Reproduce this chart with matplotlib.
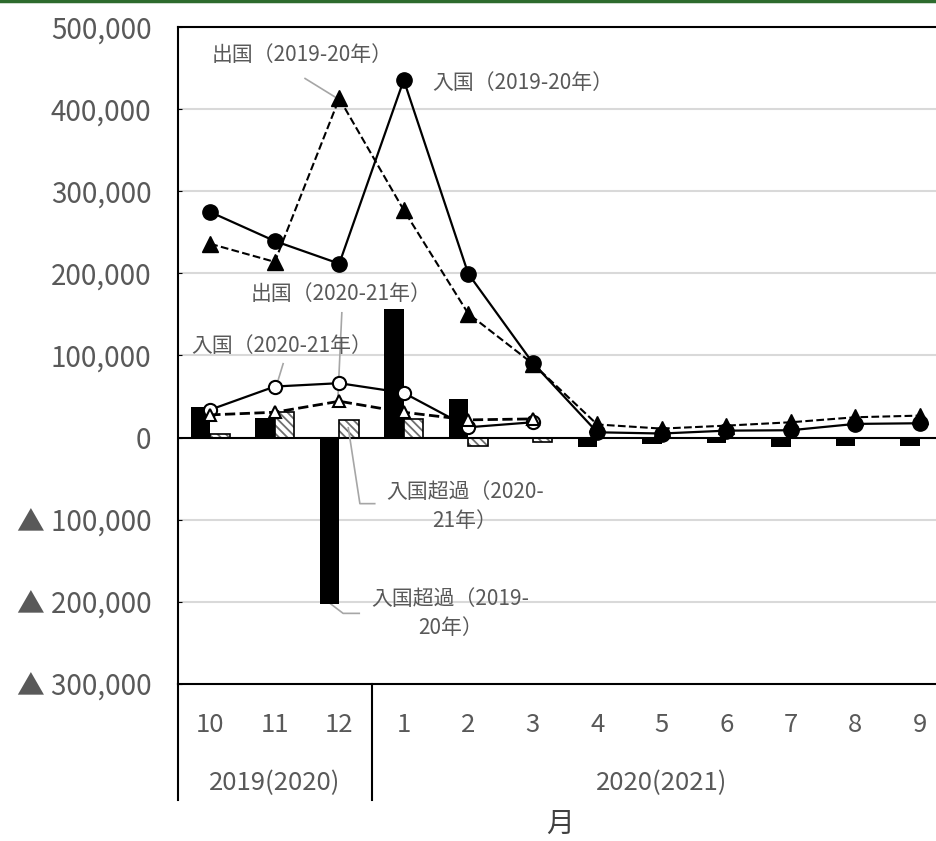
import numpy as np
import matplotlib
matplotlib.use("Agg")
import matplotlib.pyplot as plt
from matplotlib.lines import Line2D
from matplotlib.ticker import FuncFormatter

plt.rcParams['font.family'] = ['Noto Sans CJK JP', 'DejaVu Sans']
plt.rcParams['hatch.linewidth'] = 1.3

# months and groups
months = ['10', '11', '12', '1', '2', '3', '4', '5', '6', '7', '8', '9']
years = ['2019(2020)', '2020(2021)']

# values
in_1920 = [274700, 239400, 211800, 435400, 199600, 91000, 6500, 5000, 8500, 9000, 16700, 17500]
out_1920 = [236000, 214000, 413000, 277000, 151000, 90000, 16000, 11000, 14600, 18700, 24800, 26800]
in_2021 = [34000, 62200, 66300, 54500, 12600, 18700]
out_2021 = [27700, 30900, 44300, 30900, 21600, 22800]
net_1920 = [37800, 24000, -202000, 157000, 47000, 1000, -11000, -7500, -7000, -11000, -10000, -10000]
net_2021 = [5000, 31000, 21600, 23000, -10000, -5000]

txt = '#595959'
lead = '#a6a6a6'

fig = plt.figure(figsize=(9.36, 8.41), dpi=100)
ax = fig.add_axes([178/936, 1-684/841, 774/936, 657/841])

x = np.arange(len(months))
x2 = np.arange(len(in_2021))
w = 0.3

# bars
ax.bar(x - w/2, net_1920, w, color='black', zorder=2)
ax.bar(x2 + w/2, net_2021, w, color='white', edgecolor='#6f6f6f', hatch='\\\\\\\\',
       linewidth=0, zorder=2)
ax.bar(x2 + w/2, net_2021, w, color='none', edgecolor='black', linewidth=1.2, zorder=2)

# lines
ax.plot(x, out_1920, '--', color='black', lw=1.5, marker='^', ms=11, zorder=3)
ax.plot(x, in_1920, '-', color='black', lw=1.6, marker='o', ms=11, zorder=3)
ax.plot(x2, in_2021, '-', color='black', lw=1.6, marker='o', ms=9.5,
        mfc='white', mec='black', mew=1.5, zorder=4)
ax.plot(x2, out_2021, '--', color='black', lw=2, marker='^', ms=9,
        mfc='white', mec='black', mew=1.5, zorder=5)

ax.set_xlim(-0.5, 11.5)
ax.set_ylim(-300000, 500000)
ax.set_yticks(np.arange(-300000, 500001, 100000))
ax.yaxis.set_major_formatter(FuncFormatter(
    lambda v, p: '0' if v == 0 else ('{:,.0f}'.format(v) if v > 0 else '▲ {:,.0f}'.format(-v))))
ax.tick_params(axis='y', labelsize=20, colors=txt, pad=19, length=3, direction='in')
ax.tick_params(axis='y', color='black')
ax.set_xticks([])

for yv in range(-200000, 500001, 100000):
    if yv != 0:
        ax.axhline(yv, color='#d9d9d9', lw=1.5, zorder=0)
ax.axhline(0, color='black', lw=1.5, zorder=2.5)

for s in ['top', 'left', 'bottom']:
    ax.spines[s].set_linewidth(1.5)
    ax.spines[s].set_color('black')
ax.spines['right'].set_visible(False)

# category axis (two levels)
trans = ax.get_xaxis_transform()
for i, m in enumerate(months):
    ax.text(i, -0.0625, m, transform=trans, ha='center', va='center', fontsize=18.5, color=txt)
ax.text(1, -0.1515, years[0], transform=trans, ha='center', va='center', fontsize=18.5, color=txt)
ax.text(7, -0.1515, years[1], transform=trans, ha='center', va='center', fontsize=18.5, color=txt)
for xv in [-0.5, 2.5]:
    ax.add_line(Line2D([xv, xv], [0, -0.1765], transform=trans, color='black', lw=1.5, clip_on=False))
fig.text(560/936, 1-824/841, '月', ha='center', va='center', fontsize=20, color='#404040')

# labels and leader lines
fs = 15
ax.text(1.42, 465300, '出国（2019-20年）', ha='center', va='center', fontsize=fs, color=txt)
ax.plot([1.47, 1.93], [437300, 415000], color=lead, lw=1.2, zorder=1)
ax.text(3.44, 432400, '入国（2019-20年）', ha='left', va='center', fontsize=fs, color=txt)
ax.text(2.03, 175400, '出国（2020-21年）', ha='center', va='center', fontsize=fs, color=txt)
ax.plot([2.04, 1.98], [152000, 50000], color=lead, lw=1.2, zorder=1)
ax.text(1.11, 112000, '入国（2020-21年）', ha='center', va='center', fontsize=fs, color=txt)
ax.plot([1.13, 1.05], [90000, 69400], color=lead, lw=1.2, zorder=1)
ax.text(3.95, -84000, '入国超過（2020-\n21年）', ha='center', va='center', fontsize=fs,
        color=txt, linespacing=1.4)
ax.plot([2.14, 2.32, 2.55], [12000, -80400, -80400], color=lead, lw=1.2, zorder=2.6)
ax.text(3.72, -214400, '入国超過（2019-\n20年）', ha='center', va='center', fontsize=fs,
        color=txt, linespacing=1.4)
ax.plot([1.86, 2.06, 2.31], [-202000, -214000, -214000], color=lead, lw=1.2, zorder=1)

fig.add_artist(Line2D([0, 1], [0.9985, 0.9985], color='#2e6b2e', lw=2.5))

fig.savefig('out.png', dpi=100)
